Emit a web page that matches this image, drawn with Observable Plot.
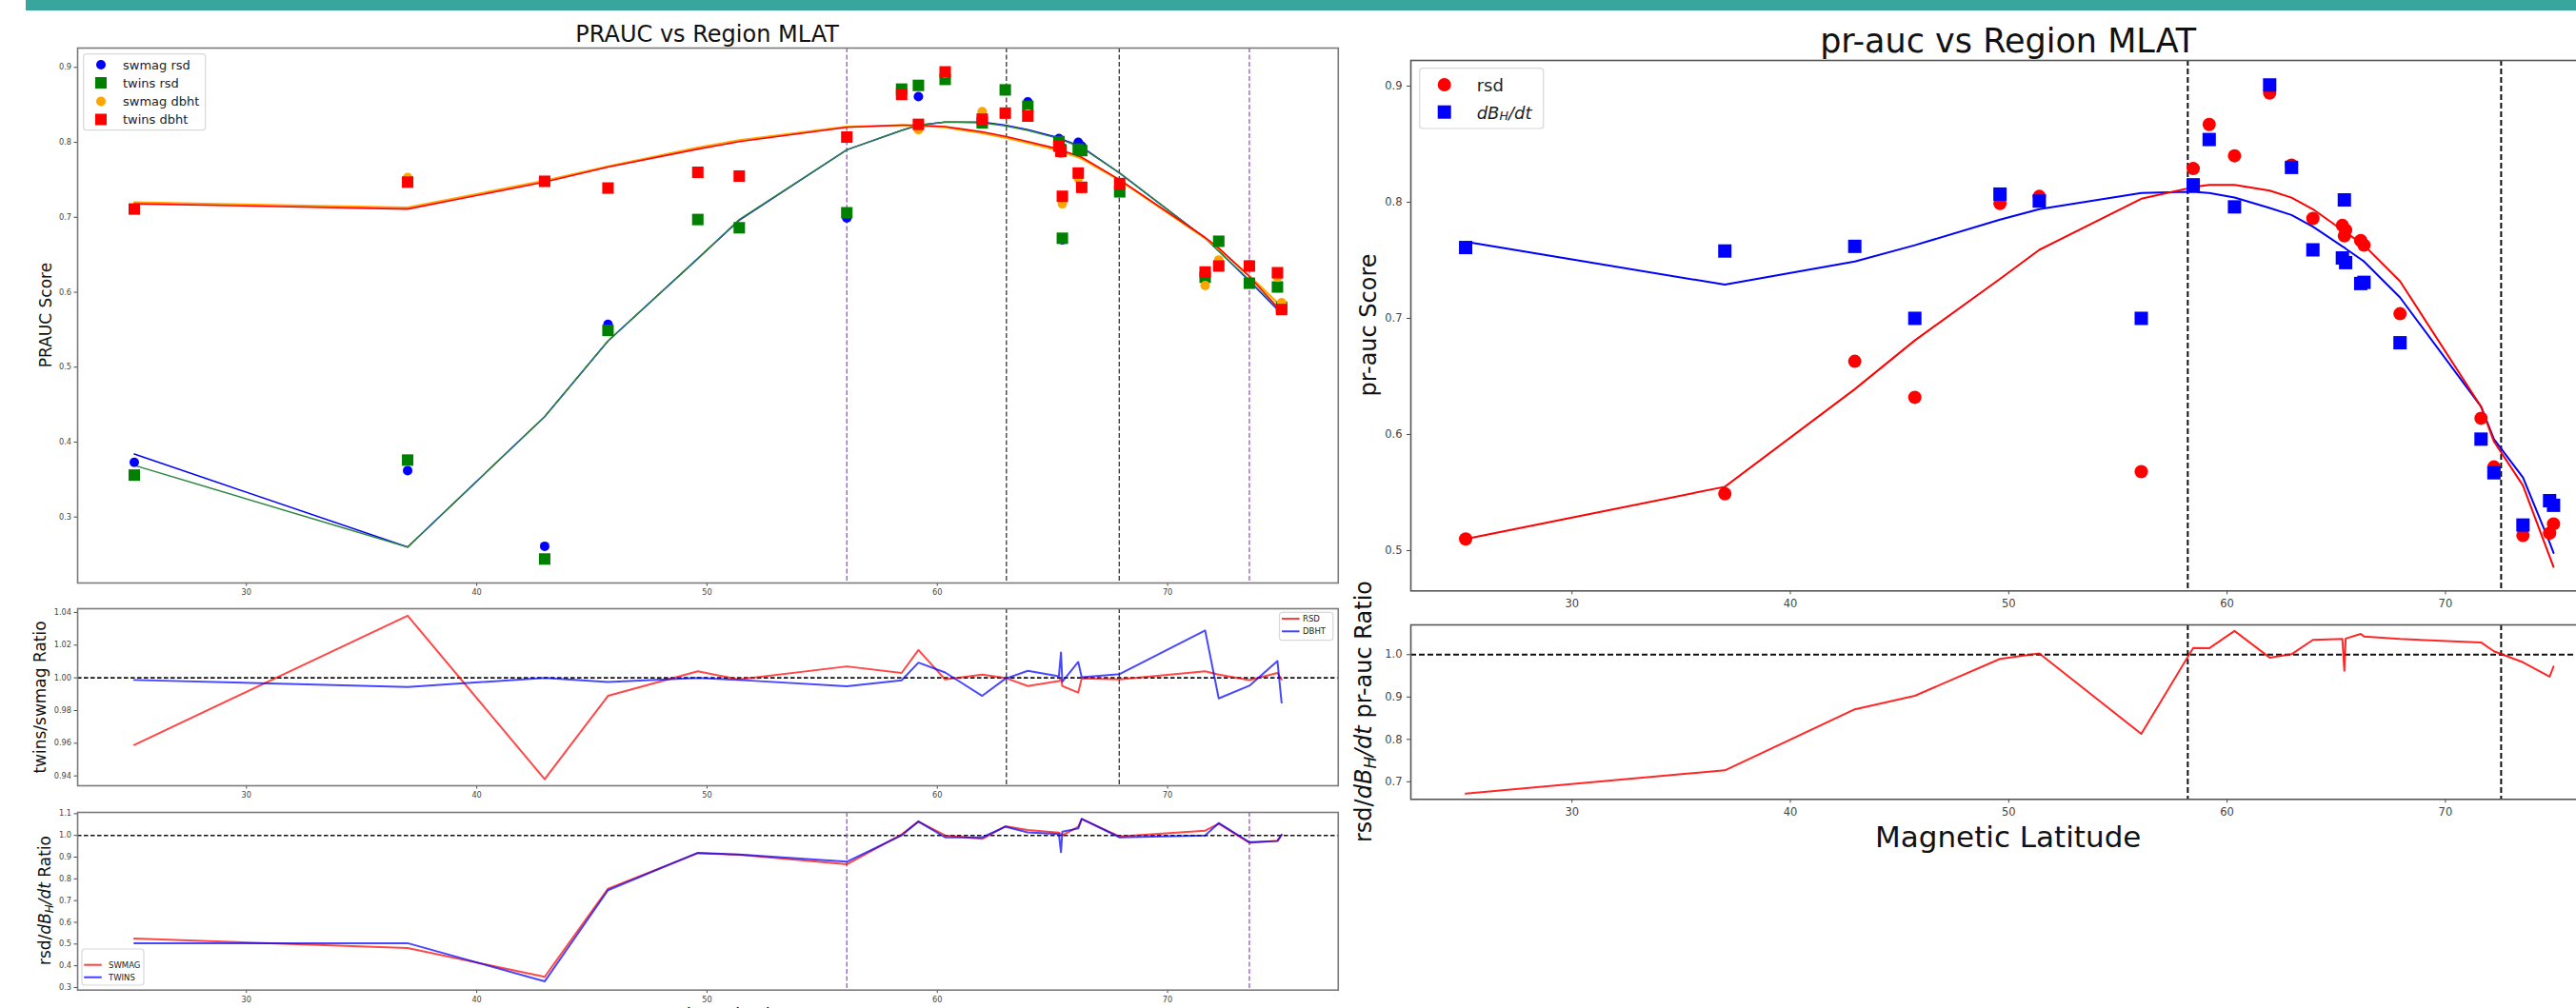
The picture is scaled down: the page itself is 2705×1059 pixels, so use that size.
<!DOCTYPE html>
<html>
<head>
<meta charset="utf-8">
<script src="https://cdn.jsdelivr.net/npm/d3@7"></script>
<script src="https://cdn.jsdelivr.net/npm/@observablehq/plot@0.6"></script>
<style>
  html, body { margin: 0; padding: 0; background: #fff; }
  #page { position: relative; width: 2705px; height: 1059px; overflow: hidden; background: #fff;
          font-family: "DejaVu Sans", sans-serif; }
  #page svg.plot-panel { position: absolute; }
  #overlay { position: absolute; left: 0; top: 0; pointer-events: none; }
</style>
</head>
<body>
<div id="page"></div>
<script>
// ---------- data ----------
// magnetic latitude of each station (degrees)
const mlat = [25.13, 37.0, 42.95, 45.7, 49.6, 51.4, 56.07, 58.45, 59.18, 60.34, 61.95, 62.95,
              63.93, 65.28, 65.37, 65.43, 66.12, 66.27, 67.92, 71.63, 72.22, 73.55, 74.77, 74.95];

// PRAUC per station, SWMAG and TWINS models, rsd and dB/dt targets
const swmagRsd  = [0.373, 0.362, 0.261, 0.557, 0.697, 0.686, 0.699, 0.868, 0.861, 0.884, 0.829, 0.869,
                   0.854, 0.805, 0.795, 0.670, 0.800, 0.795, 0.737, 0.620, 0.668, 0.612, 0.606, 0.579];
const twinsRsd  = [0.356, 0.376, 0.244, 0.549, 0.697, 0.686, 0.706, 0.871, 0.876, 0.884, 0.826, 0.870,
                   0.848, 0.801, 0.790, 0.672, 0.791, 0.789, 0.734, 0.620, 0.668, 0.612, 0.607, 0.580];
const swmagDbht = [0.712, 0.753, 0.748, 0.739, 0.760, 0.755, 0.806, 0.863, 0.817, 0.892, 0.841, 0.838,
                   0.838, 0.790, 0.785, 0.718, 0.752, 0.738, 0.745, 0.609, 0.643, 0.637, 0.620, 0.586];
const twinsDbht = [0.711, 0.747, 0.748, 0.739, 0.760, 0.755, 0.807, 0.864, 0.824, 0.894, 0.831, 0.839,
                   0.835, 0.795, 0.788, 0.728, 0.759, 0.740, 0.745, 0.627, 0.635, 0.635, 0.626, 0.577];

// fitted trend of each series, evaluated at the stations
const swmagRsdFit  = [0.384, 0.260, 0.434, 0.535, 0.645, 0.696, 0.790, 0.816, 0.823, 0.827, 0.827, 0.823,
                      0.817, 0.806, 0.805, 0.804, 0.796, 0.794, 0.759, 0.672, 0.655, 0.615, 0.577, 0.571];
const twinsRsdFit  = [0.369, 0.260, 0.434, 0.535, 0.645, 0.697, 0.790, 0.816, 0.823, 0.827, 0.826, 0.822,
                      0.816, 0.805, 0.804, 0.803, 0.795, 0.793, 0.759, 0.672, 0.655, 0.616, 0.578, 0.572];
const swmagDbhtFit = [0.720, 0.713, 0.749, 0.768, 0.793, 0.803, 0.821, 0.823, 0.822, 0.820, 0.812, 0.806,
                      0.799, 0.789, 0.788, 0.787, 0.780, 0.778, 0.749, 0.672, 0.658, 0.622, 0.586, 0.579];
const twinsDbhtFit = [0.718, 0.711, 0.747, 0.767, 0.791, 0.801, 0.820, 0.823, 0.823, 0.821, 0.814, 0.808,
                      0.801, 0.791, 0.790, 0.789, 0.782, 0.780, 0.750, 0.673, 0.659, 0.621, 0.580, 0.574];

// TWINS / SWMAG ratio
const ratioTwinsSwmagRsd  = [0.959, 1.038, 0.938, 0.989, 1.004, 0.999, 1.007, 1.003, 1.017, 0.999, 1.002, 1.000,
                             0.995, 0.998, 0.9995, 0.995, 0.991, 0.9997, 0.999, 1.004, 1.002, 0.9986, 1.003, 0.999];
const ratioTwinsSwmagDbht = [0.9987, 0.9944, 1.000, 0.9975, 1.000, 0.9987, 0.9948, 0.9985, 1.0093, 1.0033, 0.989, 0.9994,
                             1.0043, 1.001, 1.0155, 0.9977, 1.0097, 1.0004, 1.0023, 1.029, 0.9874, 0.9952, 1.0103, 0.9849];

// rsd / dB_H/dt ratio
const ratioRsdDbhtSwmag = [0.525, 0.482, 0.349, 0.755, 0.918, 0.911, 0.867, 1.005, 1.064, 1.000, 0.984, 1.042,
                           1.025, 1.013, 1.005, 1.000, 1.040, 1.076, 0.995, 1.022, 1.054, 0.966, 0.976, 1.003];
const ratioRsdDbhtTwins = [0.504, 0.504, 0.328, 0.748, 0.920, 0.912, 0.879, 1.000, 1.064, 0.991, 0.991, 1.040,
                           1.014, 1.006, 0.923, 1.017, 1.032, 1.076, 0.991, 1.000, 1.057, 0.969, 0.974, 1.003];

// pr-auc per station (second model)
const prRsd  = [0.510, 0.549, 0.663, 0.632, 0.799, 0.805, 0.568, 0.829, 0.867, 0.840, 0.894, 0.832,
                0.786, 0.780, 0.771, 0.776, 0.767, 0.763, 0.704, 0.614, 0.572, 0.513, 0.515, 0.523];
const prDbdt = [0.761, 0.758, 0.762, 0.700, 0.807, 0.801, 0.700, 0.815, 0.854, 0.796, 0.901, 0.830,
                0.759, 0.752, 0.802, 0.748, 0.730, 0.731, 0.679, 0.596, 0.567, 0.522, 0.543, 0.539];
const prRsdFit  = [0.510, 0.555, 0.639, 0.681, 0.734, 0.759, 0.803, 0.813, 0.815, 0.815, 0.810, 0.804,
                   0.794, 0.776, 0.775, 0.774, 0.765, 0.763, 0.732, 0.624, 0.594, 0.556, 0.495, 0.486];
const prDbdtFit = [0.766, 0.729, 0.749, 0.763, 0.785, 0.794, 0.808, 0.809, 0.808, 0.804, 0.795, 0.789,
                   0.779, 0.762, 0.761, 0.760, 0.751, 0.749, 0.718, 0.624, 0.596, 0.563, 0.507, 0.498];
const prRatio = [0.672, 0.727, 0.871, 0.903, 0.990, 1.003, 0.813, 1.016, 1.015, 1.056, 0.993, 1.001,
                 1.035, 1.037, 0.962, 1.038, 1.049, 1.043, 1.037, 1.029, 1.008, 0.982, 0.948, 0.972];

// region boundaries (MLAT)
const leftOuterBounds = [56.07, 73.55];
const leftInnerBounds = [63.0, 67.9];
const rightBounds = [58.2, 72.55];

// axis ticks
const latTicks = [30, 40, 50, 60, 70];
const mainTicks = [0.3, 0.4, 0.5, 0.6, 0.7, 0.8, 0.9];
const twinsRatioTicks = [0.94, 0.96, 0.98, 1.00, 1.02, 1.04];
const rsdRatioTicks = [0.3, 0.4, 0.5, 0.6, 0.7, 0.8, 0.9, 1.0, 1.1];
const prTicks = [0.5, 0.6, 0.7, 0.8, 0.9];
const prRatioTicks = [0.7, 0.8, 0.9, 1.0];

// ---------- helpers ----------
const page = document.getElementById("page");
const rows = (ys) => mlat.map((m, i) => ({mlat: m, v: ys[i]}));

function panel({frame, xDomain, yDomain, yTicks, yFormat, font, tickSize, tickPad, frameStroke, marks}) {
  const [x0, y0, x1, y1] = frame;
  const m = {l: 60, r: 14, t: 14, b: 34};
  const svg = Plot.plot({
    width: (x1 - x0) + m.l + m.r,
    height: (y1 - y0) + m.t + m.b,
    marginLeft: m.l, marginRight: m.r, marginTop: m.t, marginBottom: m.b,
    x: {domain: xDomain, ticks: latTicks, tickFormat: d3.format("d"), tickSize, tickPadding: tickPad, label: null},
    y: {domain: yDomain, ticks: yTicks, tickFormat: d3.format(yFormat), tickSize, tickPadding: tickPad, label: null},
    style: {fontFamily: "DejaVu Sans", fontSize: font + "px", color: "#444", background: "transparent", overflow: "visible"},
    marks: [...marks, Plot.frame({stroke: frameStroke, strokeWidth: 1.6})]
  });
  svg.classList.add("plot-panel");
  svg.style.left = (x0 - m.l) + "px";
  svg.style.top = (y0 - m.t) + "px";
  page.appendChild(svg);
}

const vline = (xs, stroke, w = 1.3, dash = "5,2.5") =>
  Plot.ruleX(xs, {stroke, strokeWidth: w, strokeDasharray: dash});
const unity = (w = 1.6, dash = "4.5,2.5") =>
  Plot.ruleY([1], {stroke: "#111", strokeWidth: w, strokeDasharray: dash});
const fitLine = (ys, stroke, w = 1.5, op = 1) =>
  Plot.line(rows(ys), {x: "mlat", y: "v", stroke, strokeWidth: w, strokeOpacity: op});
const pts = (ys, symbol, fill, r) =>
  Plot.dot(rows(ys), {x: "mlat", y: "v", symbol, fill, r, stroke: "none"});

const PURPLE = "#a24fcc";
const leftX = [22.67, 77.41];
const rightX = [22.62, 77.4];
const leftTick = {font: 8.2, tickSize: 3.5, tickPad: 3, frameStroke: "#7a7a7a"};
const rightTick = {font: 11.5, tickSize: 4, tickPad: 5, frameStroke: "#555"};

// ---------- left figure: PRAUC vs Region MLAT ----------
panel({
  ...leftTick, frame: [80.7, 50, 1404.5, 612], xDomain: leftX, yDomain: [0.212, 0.9258],
  yTicks: mainTicks, yFormat: ".1f",
  marks: [
    vline(leftOuterBounds, PURPLE), vline(leftInnerBounds, "#333"),
    fitLine(swmagRsdFit, "blue"), fitLine(twinsRsdFit, "#2e8540"),
    fitLine(swmagDbhtFit, "orange", 2), fitLine(twinsDbhtFit, "red", 1.6),
    pts(swmagRsd, "circle", "blue", 5), pts(twinsRsd, "square", "green", 6.8),
    pts(swmagDbht, "circle", "orange", 5), pts(twinsDbht, "square", "red", 6.8)
  ]
});

panel({
  ...leftTick, frame: [80.7, 639, 1404.5, 825], xDomain: leftX, yDomain: [0.934, 1.0423],
  yTicks: twinsRatioTicks, yFormat: ".2f",
  marks: [
    unity(), vline(leftInnerBounds, "#333"),
    fitLine(ratioTwinsSwmagRsd, "red", 2, 0.72), fitLine(ratioTwinsSwmagDbht, "blue", 2, 0.72)
  ]
});

panel({
  ...leftTick, frame: [80.7, 853.3, 1404.5, 1040], xDomain: leftX, yDomain: [0.288, 1.106],
  yTicks: rsdRatioTicks, yFormat: ".1f",
  marks: [
    unity(), vline(leftOuterBounds, PURPLE),
    fitLine(ratioRsdDbhtSwmag, "red", 2, 0.72), fitLine(ratioRsdDbhtTwins, "blue", 2, 0.72)
  ]
});

// ---------- right figure: pr-auc vs Region MLAT ----------
panel({
  ...rightTick, frame: [1480.7, 62.7, 2736.8, 620], xDomain: rightX, yDomain: [0.4653, 0.9221],
  yTicks: prTicks, yFormat: ".1f",
  marks: [
    vline(rightBounds, "#111", 2, "6,3"),
    fitLine(prDbdtFit, "blue", 2), fitLine(prRsdFit, "red", 2),
    pts(prRsd, "circle", "red", 7), pts(prDbdt, "square", "blue", 7.9)
  ]
});

panel({
  ...rightTick, frame: [1480.7, 655.7, 2736.8, 839], xDomain: rightX, yDomain: [0.6585, 1.0703],
  yTicks: prRatioTicks, yFormat: ".1f",
  marks: [
    unity(2, "6,3"), vline(rightBounds, "#111", 2, "6,3"),
    fitLine(prRatio, "red", 2, 0.85)
  ]
});

// ---------- titles, axis labels, legends ----------
const ov = d3.select(page).append("svg").attr("id", "overlay")
  .attr("width", 2705).attr("height", 1059)
  .style("font-family", "'DejaVu Sans', sans-serif");

ov.append("rect").attr("x", 27).attr("y", 0).attr("width", 2678).attr("height", 11).attr("fill", "#39a69d");

function text(x, y, str, size, opts = {}) {
  const t = ov.append("text").attr("x", x).attr("y", y).attr("font-size", size)
    .attr("fill", opts.fill || "#111").attr("text-anchor", opts.anchor || "middle");
  if (opts.rotate) t.attr("transform", `rotate(-90 ${x} ${y})`);
  return t.text(str);
}

// dB_H/dt written with a subscript, in italics
function dbdtSpans(t, size) {
  t.append("tspan").attr("font-style", "italic").text("dB");
  t.append("tspan").attr("font-style", "italic").attr("font-size", size * 0.7).attr("dy", size * 0.2).text("H");
  t.append("tspan").attr("font-style", "italic").attr("dy", -size * 0.2).text("/dt");
}

function rotatedRatioLabel(x, y, size, tail) {
  const t = ov.append("text").attr("x", x).attr("y", y).attr("font-size", size).attr("fill", "#111")
    .attr("text-anchor", "middle").attr("transform", `rotate(-90 ${x} ${y})`);
  t.append("tspan").text("rsd/");
  dbdtSpans(t, size);
  t.append("tspan").text(tail);
}

text(742.6, 43.5, "PRAUC vs Region MLAT", 24);
text(2108.7, 55, "pr-auc vs Region MLAT", 35);

text(54, 331, "PRAUC Score", 17, {rotate: true});
text(48.3, 732.5, "twins/swmag Ratio", 17, {rotate: true});
rotatedRatioLabel(52.5, 946, 17, " Ratio");
text(1444.5, 341.5, "pr-auc Score", 24, {rotate: true});
rotatedRatioLabel(1440, 747.5, 24, " pr-auc Ratio");

text(2108.7, 890, "Magnetic Latitude", 31);
// the lower figure's axis title sits at the bottom edge of the page
text(735, 1073, "Magnetic Latitude", 19);

function legendBox(x, y, w, h) {
  ov.append("rect").attr("x", x).attr("y", y).attr("width", w).attr("height", h).attr("rx", 3)
    .attr("fill", "#fff").attr("fill-opacity", 0.85).attr("stroke", "#d8d8d8").attr("stroke-width", 1.2);
}
function swatch(kind, cx, cy, size, color) {
  if (kind === "circle") ov.append("circle").attr("cx", cx).attr("cy", cy).attr("r", size / 2).attr("fill", color);
  else if (kind === "square") ov.append("rect").attr("x", cx - size / 2).attr("y", cy - size / 2)
    .attr("width", size).attr("height", size).attr("fill", color);
  else ov.append("line").attr("x1", cx - size / 2).attr("x2", cx + size / 2).attr("y1", cy).attr("y2", cy)
    .attr("stroke", color).attr("stroke-width", 2).attr("stroke-opacity", 0.75);
}
function entry(x, y, str, size) {
  return ov.append("text").attr("x", x).attr("y", y).attr("font-size", size).attr("fill", "#222")
    .attr("dominant-baseline", "central").text(str);
}

// main left legend
const leftLegend = [
  {label: "swmag rsd", kind: "circle", color: "blue"},
  {label: "twins rsd", kind: "square", color: "green"},
  {label: "swmag dbht", kind: "circle", color: "orange"},
  {label: "twins dbht", kind: "square", color: "red"}
];
const leftRows = [68, 87, 106.5, 125.5];
legendBox(87.7, 56.7, 128, 80);
leftLegend.forEach((d, i) => {
  swatch(d.kind, 106, leftRows[i], d.kind === "circle" ? 10 : 12, d.color);
  entry(129, leftRows[i], d.label, 13);
});

// ratio legends
legendBox(1343.5, 643.3, 56.3, 29.4);
[["RSD", "red", 650], ["DBHT", "blue", 663.3]].forEach(([l, c, y]) => {
  swatch("line", 1355.3, y, 18.5, c);
  entry(1368, y, l, 8.5);
});
legendBox(86, 997, 65, 38);
[["SWMAG", "red", 1013.7], ["TWINS", "blue", 1026.7]].forEach(([l, c, y]) => {
  swatch("line", 97.5, y, 18.5, c);
  entry(114, y, l, 8.5);
});

// right legend
legendBox(1490.7, 71.7, 130, 63.3);
swatch("circle", 1516.7, 89, 14, "red");
entry(1550.7, 89, "rsd", 18);
swatch("square", 1516.7, 117.7, 14, "blue");
const dt = ov.append("text").attr("x", 1550.7).attr("y", 117.7).attr("font-size", 18).attr("fill", "#222")
  .attr("dominant-baseline", "central");
dbdtSpans(dt, 18);
</script>
</body>
</html>
